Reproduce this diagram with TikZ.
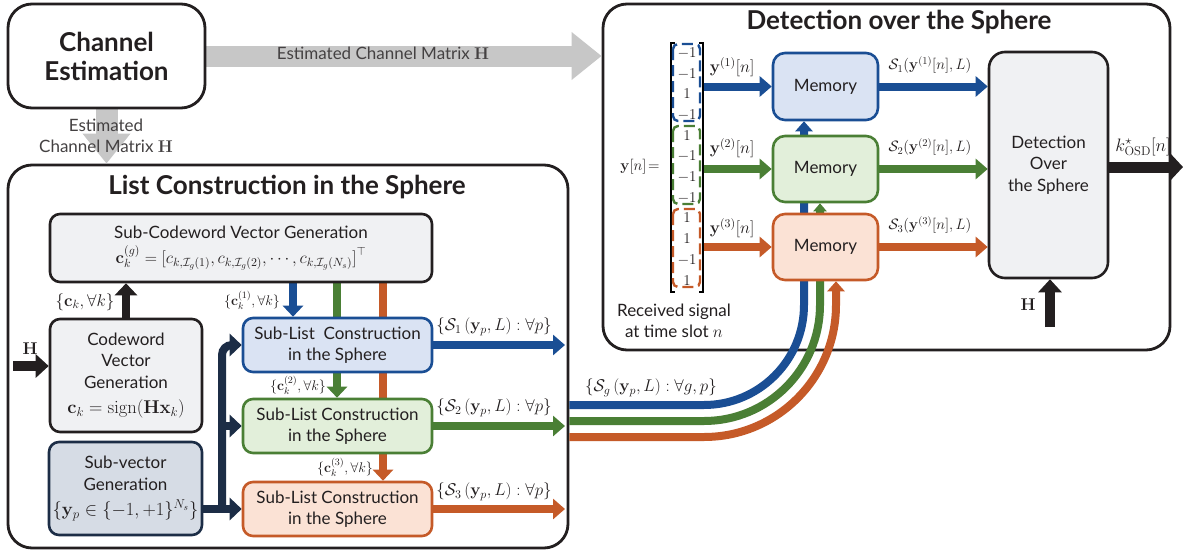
\RequirePackage{fix-cm}
\documentclass[tikz,border=0pt]{standalone}
\usepackage[no-math]{fontspec}
\newfontfamily\gs{Lato}
\usetikzlibrary{arrows.meta}
\pgfdeclarelayer{back}
\pgfdeclarelayer{mid}
\pgfsetlayers{back,mid,main}
\definecolor{ink}{HTML}{231F20}
\definecolor{gfill}{HTML}{F0F1F3}
\definecolor{cb}{HTML}{1A4E94}
\definecolor{cbf}{HTML}{DAE3F3}
\definecolor{cg}{HTML}{4A7F35}
\definecolor{cgf}{HTML}{E2EFDA}
\definecolor{co}{HTML}{C55A28}
\definecolor{cof}{HTML}{FBE2D5}
\definecolor{navy}{HTML}{1C2D46}
\definecolor{navyf}{HTML}{D6DCE5}
\definecolor{gr}{HTML}{C7C7C7}
\begin{document}
\begin{tikzpicture}[x=1pt,y=-1pt,
  every node/.style={inner sep=0pt, text=ink},
  sans/.style={font=\gs\fontsize{17}{21.5}\selectfont},
  box/.style={sans, draw=ink, line width=2.6pt, rounded corners=10pt, fill=gfill, align=center},
  big/.style={draw=ink, line width=2.8pt, rounded corners=24pt},
  ttl/.style={font=\gs\bfseries\fontsize{26}{29}\selectfont, align=center},
  m18/.style={font=\fontsize{18}{20}\selectfont},
  m17/.style={font=\fontsize{17}{19}\selectfont},
  m15/.style={font=\fontsize{15}{17}\selectfont},
  m14/.style={font=\fontsize{14}{16}\selectfont},
  fat/.style={line width=8pt, -{Triangle[length=12pt,width=20pt]}},
  vfat/.style={line width=8pt, -{Triangle[length=11pt,width=20pt]}},
  upfat/.style={line width=8pt, -{Triangle[length=10pt,width=17pt]}},
  navyline/.style={line width=8pt, navy, -{Triangle[length=12pt,width=22pt]}},
  grayarrow/.style={line width=21pt, gr, -{Triangle[length=30pt,width=46pt]}},
  blackarrow/.style={line width=10pt, ink, -{Triangle[length=13pt,width=23pt]}},
  dbox/.style={dashed, dash pattern=on 11pt off 5pt, line width=2.4pt, rounded corners=5pt},
  ent/.style={font=\fontsize{15}{17}\selectfont}
]
\begin{pgfonlayer}{back}
\path[fill=white] (0,0) rectangle (1184,554);
\node[big, minimum width=567pt, minimum height=346pt] (det) at (886.5,177) {};
\node[big, minimum width=560pt, minimum height=383pt] (lst) at (288,356.5) {};
\end{pgfonlayer}
\useasboundingbox (0,0) rectangle (1184,554);

% Channel estimation
\node[big, ttl, minimum width=197pt, minimum height=104pt] (chan) at (106.5,56) {Channel\\Estimation};

% titles
\node[ttl] (dett) at (899,22) {Detection over the Sphere};
\node[ttl] (lstt) at (287,187) {List Construction in the Sphere};

% list construction boxes
\node[box, minimum width=382pt, minimum height=68pt] (scw) at (241,248) {Sub-Codeword Vector Generation\\[3pt]$\mathbf{c}_k^{(g)} = \bigl[c_{k,\mathcal{I}_g(1)}, c_{k,\mathcal{I}_g(2)}, \cdots, c_{k,\mathcal{I}_g(N_s)}\bigr]^{\top}$};
\node[box, minimum width=152pt, minimum height=113pt] (cvg) at (126,375.5) {Codeword\\Vector\\Generation\\[4pt]{\fontsize{18.5}{20}\selectfont$\mathbf{c}_k=\mathrm{sign}(\mathbf{H}\mathbf{x}_k)$}};
\node[box, draw=navy, fill=navyf, minimum width=153pt, minimum height=93pt] (sv) at (125.5,488.5) {Sub-vector\\Generation\\[4pt]{\fontsize{18.5}{20}\selectfont$\{\mathbf{y}_p\in\{-1,+1\}^{N_s}\}$}};
\node[box, draw=cb, fill=cbf, minimum width=189pt, minimum height=54pt] (sl1) at (337.5,345) {Sub-List\ \ Construction\\in the Sphere};
\node[box, draw=cg, fill=cgf, minimum width=189pt, minimum height=54pt] (sl2) at (337.5,426) {Sub-List Construction\\in the Sphere};
\node[box, draw=co, fill=cof, minimum width=189pt, minimum height=54pt] (sl3) at (337.5,509) {Sub-List Construction\\in the Sphere};

% detection boxes
\node[box, draw=cb, fill=cbf, rounded corners=12pt, minimum width=105pt, minimum height=67pt] (m1) at (825.5,86.5) {Memory};
\node[box, draw=cg, fill=cgf, rounded corners=12pt, minimum width=105pt, minimum height=66pt] (m2) at (825.5,169) {Memory};
\node[box, draw=co, fill=cof, rounded corners=12pt, minimum width=105pt, minimum height=66pt] (m3) at (825.5,247) {Memory};
\node[box, rounded corners=16pt, minimum width=119pt, minimum height=226pt] (dos) at (1048.5,165) {Detection\\Over\\the Sphere};

% received vector
\draw[line width=1.1pt] (675,43) -- (671,43) -- (671,292) -- (675,292);
\draw[line width=1.1pt] (699,43) -- (703,43) -- (703,292) -- (699,292);
\draw[dbox, cb] (673,44) rectangle (700,121);
\draw[dbox, cg] (673,126) rectangle (700,204);
\draw[dbox, co] (673,209) rectangle (700,287);
\node[ent] (b1) at (687,53) {$-1$};
\node[ent] (b2) at (687,74) {$-1$};
\node[ent] (b3) at (687,94) {$1$};
\node[ent] (b4) at (687,115) {$-1$};
\node[ent] (g1) at (687,136) {$1$};
\node[ent] (g2) at (687,156) {$-1$};
\node[ent] (g3) at (687,177) {$-1$};
\node[ent] (g4) at (687,198) {$-1$};
\node[ent] (o1) at (687,218) {$1$};
\node[ent] (o2) at (687,239) {$1$};
\node[ent] (o3) at (687,260) {$-1$};
\node[ent] (o4) at (687,281) {$1$};
\node[m15] (yn) at (640,167) {$\mathbf{y}[n]\!=$};
\node[sans, align=center] (rs) at (674,321) {Received signal\\at time slot $n$};

% coordinates
\coordinate (vr) at (703,0);
\coordinate (cbk) at (804,405);
\coordinate (cgk) at (820,421);
\coordinate (cok) at (836,437);
\coordinate (kout) at (1183,167);
\coordinate (hin) at (1050,327);
\coordinate (hin2) at (13,366);
\coordinate (xn) at (222,0);
\coordinate (xb) at (293,0);
\coordinate (xg) at (337,0);
\coordinate (xo) at (383,0);
\coordinate (lo) at (565,0);

\begin{pgfonlayer}{mid}
% gray arrows
\draw[grayarrow] (chan.east) -- (det.west |- chan.east);
\draw[grayarrow, line width=22pt] (chan.south) -- (lst.north -| chan.south);
% detection arrows
\draw[fat, cb] (vr |- m1.west) -- (m1.west);
\draw[fat, cg] (vr |- m2.west) -- (m2.west);
\draw[fat, co] (vr |- m3.west) -- (m3.west);
\draw[fat, cb] (m1.east) -- (dos.west |- m1.east);
\draw[fat, cg] (m2.east) -- (dos.west |- m2.east);
\draw[fat, co] (m3.east) -- (dos.west |- m3.east);
\draw[line width=11pt, ink, -{Triangle[length=12pt,width=25pt]}] (dos.east |- kout) -- (kout);
\draw[blackarrow] (hin) -- (hin |- dos.south);
% curves
\draw[upfat, cb, rounded corners=100pt] (lst.east |- cbk) -| (cbk |- m1.south);
\draw[upfat, cg, rounded corners=116pt, -{Triangle[length=8pt,width=13pt]}] (lst.east |- cgk) -| (cgk |- m2.south);
\draw[upfat, co, rounded corners=132pt] (lst.east |- cok) -| (cok |- m3.south);
% list arrows
\draw[blackarrow] (hin2) -- (cvg.west |- hin2);
\draw[fat, ink, -{Triangle[length=12pt,width=22pt]}] (cvg.north) -- (scw.south -| cvg.north);
\draw[vfat, cb] (xb |- scw.south) -- (xb |- sl1.north);
\draw[vfat, cg] (xg |- scw.south) -- (xg |- sl2.north);
\draw[vfat, co] (xo |- scw.south) -- (xo |- sl3.north);
\draw[navyline] (sv.east |- sl3.west) -- (sl3.west);
\draw[navyline, rounded corners=10pt] (xn |- sl3.west) -- (xn |- sl1.west) -- (sl1.west);
\draw[navyline] (xn |- sl2.west) -- (sl2.west);
\draw[fat, cb] (sl1.east) -- (lo |- sl1.east);
\draw[fat, cg] (sl2.east) -- (lo |- sl2.east);
\draw[fat, co] (sl3.east) -- (lo |- sl3.east);
\end{pgfonlayer}

% labels
\node[sans, text=ink!85] (ech) at (383,53) {Estimated Channel Matrix $\mathbf{H}$};
\node[sans, align=center, text=ink!85] (ecv) at (106,136) {Estimated\\Channel Matrix $\mathbf{H}$};
\node[m17] (y1l) at (732,67) {$\mathbf{y}^{(1)}[n]$};
\node[m17] (y2l) at (732,148) {$\mathbf{y}^{(2)}[n]$};
\node[m17] (y3l) at (732,228) {$\mathbf{y}^{(3)}[n]$};
\node[m15] (s1l) at (930,65) {$\mathcal{S}_1(\mathbf{y}^{(1)}[n],L)$};
\node[m15] (s2l) at (930,147) {$\mathcal{S}_2(\mathbf{y}^{(2)}[n],L)$};
\node[m15] (s3l) at (930,225) {$\mathcal{S}_3(\mathbf{y}^{(3)}[n],L)$};
\node[m18] (kl) at (1143,147) {$k^{\star}_{\mathrm{OSD}}[n]$};
\node[m17] (hl) at (1028,305) {$\mathbf{H}$};
\node[m17] (sgl) at (651,388) {$\left\{\mathcal{S}_g\left(\mathbf{y}_p,L\right):\forall g,p\right\}$};
\node[m17] (hl2) at (30,349) {$\mathbf{H}$};
\node[m17] (ckl) at (85,302) {$\{\mathbf{c}_k,\forall k\}$};
\node[m14] (c1l) at (252,300) {$\{\mathbf{c}_k^{(1)},\forall k\}$};
\node[m14] (c2l) at (298,385) {$\{\mathbf{c}_k^{(2)},\forall k\}$};
\node[m14] (c3l) at (345,467) {$\{\mathbf{c}_k^{(3)},\forall k\}$};
\node[m17] (o1l) at (494,327) {$\left\{\mathcal{S}_1\left(\mathbf{y}_p,L\right):\forall p\right\}$};
\node[m17] (o2l) at (494,408) {$\left\{\mathcal{S}_2\left(\mathbf{y}_p,L\right):\forall p\right\}$};
\node[m17] (o3l) at (494,492) {$\left\{\mathcal{S}_3\left(\mathbf{y}_p,L\right):\forall p\right\}$};
\end{tikzpicture}
\end{document}
